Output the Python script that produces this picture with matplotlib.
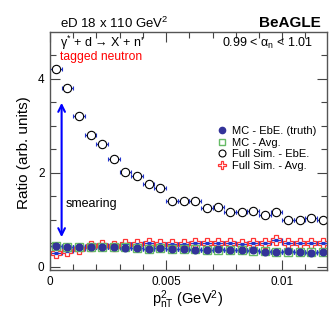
import numpy as np
import matplotlib
matplotlib.use('Agg')
import matplotlib.pyplot as plt
from matplotlib.lines import Line2D

plt.rcParams['font.family'] = ['Liberation Sans', 'DejaVu Sans']
plt.rcParams['mathtext.fontset'] = 'custom'
plt.rcParams['mathtext.rm'] = 'Liberation Sans'
plt.rcParams['mathtext.it'] = 'Liberation Sans'
plt.rcParams['mathtext.sf'] = 'Liberation Sans'

# bins of p_nT^2, width 0.0005 GeV^2
bin_centers = np.arange(24) * 0.0005 + 0.00025
bin_half = 0.00025

mc_ebe = [0.44, 0.42, 0.41, 0.42, 0.42, 0.41, 0.40, 0.40, 0.37, 0.40, 0.37, 0.38,
          0.36, 0.36, 0.37, 0.36, 0.35, 0.35, 0.32, 0.32, 0.33, 0.31, 0.30, 0.31]
mc_avg = [0.45, 0.42, 0.42, 0.41, 0.42, 0.41, 0.41, 0.40, 0.38, 0.39, 0.37, 0.37,
          0.37, 0.36, 0.36, 0.36, 0.35, 0.34, 0.33, 0.32, 0.32, 0.31, 0.31, 0.31]
full_ebe = [4.21, 3.80, 3.20, 2.80, 2.61, 2.29, 2.02, 1.93, 1.76, 1.67, 1.40, 1.40,
            1.40, 1.25, 1.27, 1.17, 1.17, 1.18, 1.10, 1.17, 0.99, 0.99, 1.03, 0.99]
full_avg = [0.29, 0.34, 0.37, 0.44, 0.46, 0.44, 0.49, 0.48, 0.51, 0.48, 0.48, 0.49,
            0.51, 0.50, 0.51, 0.51, 0.49, 0.50, 0.51, 0.56, 0.50, 0.50, 0.51, 0.50]
full_ebe_err = [0.07, 0.06, 0.05, 0.05, 0.05, 0.04, 0.04, 0.04, 0.04, 0.03, 0.03, 0.03,
                0.03, 0.03, 0.03, 0.03, 0.03, 0.03, 0.03, 0.03, 0.03, 0.03, 0.03, 0.03]

blue_err = '#2233cc'
navy = '#333399'
green = '#66bb66'
red = '#ff3333'

fig = plt.figure(figsize=(3.32, 3.19), dpi=100)
ax = fig.add_axes([50/332, 1-270/319, 277/332, 238/319])

ekw = dict(xerr=bin_half, ls='none', ecolor=blue_err, elinewidth=0.9, capsize=1.2, capthick=0.8)
ax.errorbar(bin_centers, full_avg, yerr=0.02, marker='P', ms=6.5, mfc='none', mec=red, mew=0.9, **ekw)
ax.errorbar(bin_centers, mc_avg, yerr=0.02, marker='s', ms=5.5, mfc='none', mec=green, mew=1.0, **ekw)
ax.errorbar(bin_centers, mc_ebe, yerr=0.02, marker='o', ms=4.8, mfc=navy, mec=navy, **ekw)
ax.errorbar(bin_centers, full_ebe, yerr=full_ebe_err, marker='o', ms=6, mfc='white', mec='black', mew=0.8, **ekw)

ax.annotate('', xy=(0.0005, 3.55), xytext=(0.0005, 0.57),
            arrowprops=dict(arrowstyle='<->', color='blue', lw=1.5, mutation_scale=12))
ax.text(0.00067, 1.33, 'smearing', fontsize=9, va='center', ha='left')

ax.set_xlim(0, 0.01193)
ax.set_ylim(-0.07, 5.0)
ax.set_xticks([0, 0.005, 0.01])
ax.set_xticklabels(['0', '0.005', '0.01'])
ax.set_xticks(np.arange(0, 0.012, 0.001), minor=True)
ax.set_yticks([0, 2, 4])
ax.set_yticks(np.arange(0, 5.0, 0.5), minor=True)
ax.tick_params(which='both', direction='in', top=True, right=True, colors='#444444',
               labelcolor='black', labelsize=8.5, width=0.8)
ax.tick_params(which='major', length=7, pad=4)
ax.tick_params(which='minor', length=4)
for s in ax.spines.values():
    s.set_color('#555555')
    s.set_linewidth(1.0)

handles = [
    Line2D([], [], ls='none', marker='o', ms=4.5, mfc=navy, mec=navy),
    Line2D([], [], ls='none', marker='s', ms=5, mfc='none', mec=green, mew=1.0),
    Line2D([], [], ls='none', marker='o', ms=5, mfc='white', mec='black', mew=0.8),
    Line2D([], [], ls='none', marker='P', ms=6, mfc='none', mec=red, mew=0.9),
]
labels = ['MC - EbE. (truth)', 'MC - Avg.', 'Full Sim. - EbE.', 'Full Sim. - Avg.']
ax.legend(handles, labels, loc='upper left', bbox_to_anchor=(0.6, 0.605), frameon=False,
          fontsize=8, handlelength=1.0, handletextpad=0.4, labelspacing=0.15,
          borderaxespad=0, borderpad=0)

fig.text(60/332, 1-23/319, 'eD 18 x 110 GeV$^{2}$', fontsize=9.5, va='center', ha='left')
fig.text(321/332, 1-23/319, 'BeAGLE', fontsize=11, fontweight='bold', va='center', ha='right')
fig.text(60/332, 1-43/319, "γ$^{*}$ + d → X + n'", fontsize=9, va='center', ha='left')
fig.text(60/332, 1-57/319, 'tagged neutron', fontsize=8.7, color='red', va='center', ha='left')
fig.text(313/332, 1-43/319, '0.99 < α$_{n}$ < 1.01', fontsize=9, va='center', ha='right')

fig.text(24/332, 1-153/319, 'Ratio (arb. units)', fontsize=11, rotation=90, va='center', ha='center')
fig.text(188/332, 1-300/319, r'$\mathregular{p^{2}_{nT}}$ (GeV$^{2}$)', fontsize=10.5, va='center', ha='center')

fig.savefig('out.png', dpi=100)
